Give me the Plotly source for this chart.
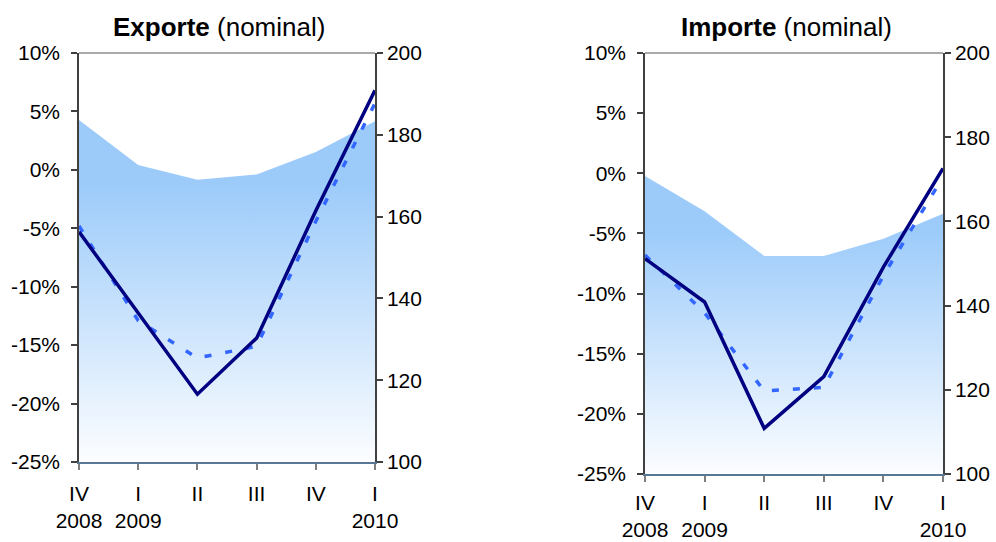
import plotly.graph_objects as go

# ---- data ----
quarters = ["IV<br>2008", "I<br>2009", "II", "III", "IV", "I<br>2010"]
xpos = [0, 1, 2, 3, 4, 5]

# Exporte
exp_index = [183.6, 172.6, 169.0, 170.3, 175.8, 183.3]      # area, right axis
exp_growth = [-5.3, -12.3, -19.2, -14.4, -3.5, 6.8]         # solid line, %
exp_growth2 = [-4.8, -12.9, -16.1, -15.1, -4.4, 5.7]        # dashed line, %

# Importe
imp_index = [170.8, 162.4, 151.8, 151.8, 155.9, 161.8]
imp_growth = [-7.1, -10.7, -21.2, -16.9, -7.8, 0.4]
imp_growth2 = [-6.8, -11.6, -18.1, -17.8, -8.5, -0.3]

pct_ticks = [-25, -20, -15, -10, -5, 0, 5, 10]
idx_ticks = [100, 120, 140, 160, 180, 200]

W, H = 996, 542
FONT = "Liberation Sans, Arial, sans-serif"
NAVY = "#000080"
DASHC = "#3366FF"
FS = 21

fig = go.Figure()

def px_x(p):
    return p / W

def px_y(p):
    return 1 - p / H

panels = [
    dict(x0=79, x1=375, top=53, bottom=462, xa="x", ya_idx="y", ya_pct="y2",
         idx=exp_index, g1=exp_growth, g2=exp_growth2, gstop=168, xstand=6,
         title="<b>Exporte</b> (nominal)", tx=219),
    dict(x0=645, x1=943, top=53, bottom=474, xa="x2", ya_idx="y3", ya_pct="y4",
         idx=imp_index, g1=imp_growth, g2=imp_growth2, gstop=158, xstand=3,
         title="<b>Importe</b> (nominal)", tx=786.5),
]

for i, p in enumerate(panels):
    fig.add_trace(go.Scatter(
        x=xpos, y=p["idx"], xaxis=p["xa"], yaxis=p["ya_idx"],
        mode="lines", line=dict(width=0, color="rgba(153,204,255,0)"),
        fill="tozeroy",
        fillgradient=dict(type="vertical", start=100, stop=p["gstop"],
                          colorscale=[[0, "rgb(252,253,255)"], [1, "rgb(156,203,250)"]]),
        hoverinfo="skip", showlegend=False))
    fig.add_trace(go.Scatter(
        x=xpos, y=p["g2"], xaxis=p["xa"], yaxis=p["ya_pct"], mode="lines",
        line=dict(color=DASHC, width=3.5, dash="7px,14px"), showlegend=False))
    fig.add_trace(go.Scatter(
        x=xpos, y=p["g1"], xaxis=p["xa"], yaxis=p["ya_pct"], mode="lines",
        line=dict(color=NAVY, width=3.5), showlegend=False))

    xname = "xaxis" if i == 0 else "xaxis2"
    idxname = "yaxis" if i == 0 else "yaxis3"
    pctname = "yaxis2" if i == 0 else "yaxis4"
    fig.update_layout(**{
        xname: dict(domain=[px_x(p["x0"]), px_x(p["x1"])], range=[0, 5],
                    anchor=p["ya_idx"], tickvals=xpos, ticktext=quarters,
                    ticks="outside", ticklen=6, tickcolor="#7f7f7f", tickwidth=1.5,
                    showline=True, linecolor="#5a7796", linewidth=1.5,
                    showgrid=False, zeroline=False, automargin=False,
                    ticklabelstandoff=p["xstand"],
                    tickfont=dict(family=FONT, size=FS, color="black")),
        idxname: dict(domain=[px_y(p["bottom"]), px_y(p["top"])], range=[100, 200],
                      anchor=p["xa"], side="right", tickvals=idx_ticks,
                      ticks="outside", ticklen=6, tickcolor="#404040", tickwidth=1.5,
                      showline=True, linecolor="#404040", linewidth=1.5,
                      showgrid=False, zeroline=False, automargin=False,
                      tickfont=dict(family=FONT, size=FS, color="black")),
        pctname: dict(range=[-25, 10], overlaying=p["ya_idx"], anchor=p["xa"],
                      side="left", tickvals=pct_ticks,
                      ticktext=[f"{v}%" for v in pct_ticks],
                      ticks="outside", ticklen=6, tickcolor="#404040", tickwidth=1.5,
                      showline=True, linecolor="#404040", linewidth=1.5,
                      showgrid=False, zeroline=False, automargin=False,
                      ticklabelstandoff=7,
                      tickfont=dict(family=FONT, size=FS, color="black")),
    })
    fig.add_shape(type="line", xref=f"{p['xa']} domain", yref=f"{p['ya_idx']} domain",
                  x0=0, x1=1, y0=1, y1=1, line=dict(color="#8c8c8c", width=1.5))
    fig.add_annotation(text=p["title"], xref="paper", yref="paper",
                       x=px_x(p["tx"]), y=px_y(27), xanchor="center", yanchor="middle",
                       showarrow=False, font=dict(family=FONT, size=26, color="black"))

fig.update_layout(width=W, height=H, margin=dict(l=0, r=0, t=0, b=0),
                  paper_bgcolor="white", plot_bgcolor="white", showlegend=False)

fig.write_html("out.html", config={"displayModeBar": False},
               post_script="document.body.style.margin='0';"
                           "document.body.style.overflow='hidden';"
                           "document.documentElement.style.overflow='hidden';")
